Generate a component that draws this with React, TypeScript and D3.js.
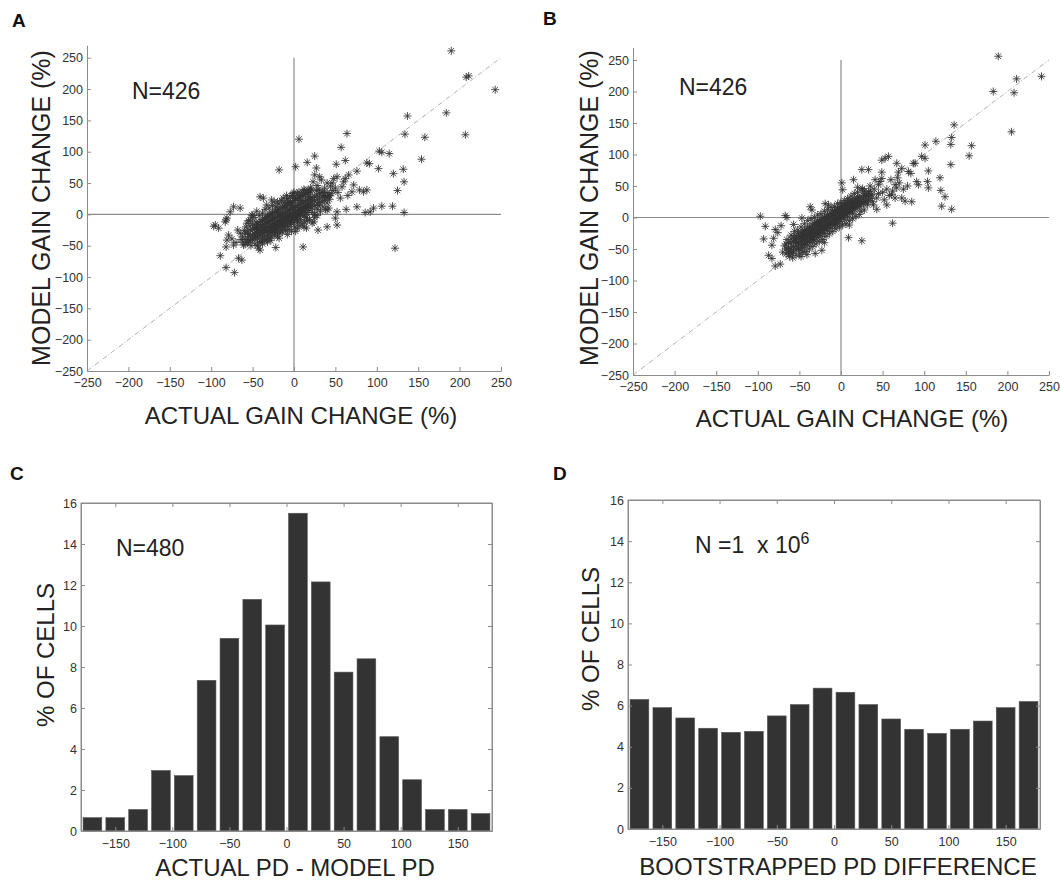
import React, { useEffect, useRef } from "react";
import * as d3 from "d3";

type Pt = [number, number];

// A: actual vs model gain change (%), cells away from the central cloud
const gainSpreadA: Pt[] = [
  [190, 261], [211, 221], [208, 219], [243, 199], [184, 162], [207, 127], [137, 157], [134, 128],
  [158, 123], [154, 88], [6, 120], [64, 129], [57, 107], [103, 101], [106, 99], [115, 97],
  [25, 93], [16, 83], [62, 86], [51, 80], [88, 82], [91, 81], [102, 73], [132, 72],
  [76, 69], [120, 65], [133, 52], [125, 38], [-18, 71], [2, 76], [27, 74], [62, 57],
  [66, 63], [72, 47], [70, 36], [79, 39], [84, 36], [88, 39], [48, 57], [52, 60],
  [46, 50], [50, 42], [56, 26], [63, 8], [76, 12], [86, 3], [92, 4], [96, 10],
  [106, 13], [119, 13], [133, 3], [122, -54], [11, -52], [-22, -53], [25, 63], [31, 60],
  [23, 52], [44, 45], [47, 38], [53, 35], [58, 44], [65, 30], [60, 52], [42, 30],
  [37, 42], [50, -6], [52, -17], [40, -20], [29, -25], [15, -22], [52, 4], [40, 7],
  [-37, 26], [-41, 28], [-73, 12], [-77, 4], [-81, -6], [-65, 10], [-95, -17], [-91, -22],
  [-97, -19], [-83, -12], [-82, -9], [-79, -33], [-81, -41], [-82, -52], [-89, -66], [-82, -85],
  [-72, -93], [-67, -70], [-63, -73], [-73, -49], [-75, -39], [-61, -49], [-55, -44], [-43, -54],
  [-41, -57], [-57, -14], [-53, -9], [-51, -1], [-13, 26], [-7, 20], [-1, 33], [-27, 23],
  [-20, 20], [30, 40], [35, 35], [28, 46], [40, 50], [33, 55], [20, 42], [18, 35],
  [12, 40], [38, 28], [45, 33],
];

// A: loose edge of the central cloud
const gainHaloA: Pt[] = [
  [-45, 5], [-42, -2], [-38, 2], [-35, 8], [-48, -5], [-40, -44], [-36, -42], [-33, -40],
  [-30, -38], [-27, -36], [-24, -33], [-20, -35], [-17, -30], [-14, -28], [-10, -26], [-6, -24],
  [-3, -27], [1, -20], [4, -22], [7, -18], [10, -15], [13, -12], [16, -10], [19, -8],
  [22, -14], [25, -5], [28, -2], [-30, 10], [-26, 14], [-22, 12], [-18, 17], [-15, 22],
  [-11, 19], [-8, 25], [-5, 28], [-2, 30], [1, 27], [4, 33], [7, 30], [10, 35],
  [13, 38], [17, 39], [21, 40], [-55, -10], [-58, -20], [-60, -26], [-52, -50], [-47, -47],
  [-44, -50], [-38, -47], [-28, -42], [-18, -38], [-8, -32], [2, -27], [12, -20], [24, -12],
  [32, 5], [35, 12], [38, 8], [42, 10], [27, 38], [-50, -2], [-33, 15], [-24, 20],
  [-9, 30], [0, 35], [6, 36], [-65, -30], [-64, -40], [-70, -45], [-68, -25], [-30, 0],
  [-20, 3], [-10, 10], [-25, -5], [-15, 0], [-5, -15], [5, -12], [15, -5], [-35, -8],
  [-45, -20], [-55, -32], [25, 0], [30, 14], [18, 28], [8, 22], [-3, 14], [-12, -20],
  [-22, -30], [-32, -44],
];

// A: central cloud, listed as actual change -> model changes
const gainCoreA: [number, number[]][] = [
  [-62, [-44, -36]], [-59, [-40, -30, -48]], [-56, [-38, -28, -45]], [-53, [-35, -25, -42, -18]],
  [-50, [-33, -24, -40, -15]], [-48, [-31, -38, -22]], [-46, [-29, -36, -20, -12]],
  [-44, [-30, -24, -38, -16]], [-42, [-28, -21, -35, -13, -44]], [-40, [-26, -19, -33, -11]],
  [-38, [-25, -17, -31, -39, -9]], [-36, [-23, -16, -29, -8, -36]], [-34, [-21, -14, -28, -5]],
  [-32, [-20, -13, -26, -34, -4]], [-30, [-19, -11, -25, -2, -31]], [-28, [-17, -10, -23, -29, 0]],
  [-26, [-16, -8, -21, 2, -27]], [-24, [-14, -7, -20, -26, 4]], [-22, [-13, -5, -18, 5, -24]],
  [-20, [-11, -4, -16, 7, -22, -28]], [-18, [-10, -2, -15, 8, -20]], [-16, [-8, -1, -13, 10, -19, -25]],
  [-14, [-7, 1, -12, 11, -17]], [-12, [-5, 2, -10, 13, -16, -22]], [-10, [-4, 4, -9, 14, -14]],
  [-8, [-2, 5, -7, 16, -13, -19]], [-6, [-1, 7, -6, 17, -11]], [-4, [1, 8, -4, 19, -10, -16]],
  [-2, [2, 9, -3, 20, -8]], [0, [3, 11, -1, 22, -7, -13]], [2, [5, 12, 0, 23, -5]],
  [4, [6, 14, 1, 25, -4, -10]], [6, [8, 15, 3, 26, -2]], [8, [9, 17, 4, 28, -1, -8]],
  [10, [11, 18, 6, 29, 1]], [12, [12, 20, 7, 31, -3]], [14, [14, 21, 9, 32, 3]],
  [16, [15, 23, 10, 34, 0]], [18, [17, 24, 12, 6]], [20, [18, 26, 13, 36]], [22, [20, 27, 10, 3]],
  [25, [22, 29, 14]], [28, [24, 31, 16, 8]], [31, [26, 33, 19]], [34, [28, 20, 36]],
  [37, [30, 22]], [40, [27, 35, 18]], [43, [30, 24]],
];

// B: same cells, second model
const gainSpreadB: Pt[] = [
  [189, 256], [211, 220], [241, 224], [183, 200], [208, 198], [205, 136], [136, 147], [133, 127],
  [132, 116], [157, 114], [154, 98], [114, 121], [101, 115], [132, 84], [119, 63], [120, 43],
  [125, 33], [121, 18], [133, 13], [62, -9], [25, -37], [9, -32], [105, 74], [91, 57],
  [93, 52], [104, 57], [105, 47], [89, 86], [97, 97], [101, 94], [87, 86], [81, 73],
  [84, 70], [73, 78], [67, 86], [53, 94], [57, 97], [49, 91], [69, 72], [49, 62],
  [47, 57], [65, 52], [67, 47], [61, 36], [65, 31], [73, 31], [77, 26], [85, 25],
  [55, 20], [43, 31], [33, 41], [37, 36], [25, 76], [33, 76], [15, 60], [1, 55],
  [2, 44], [20, 48], [26, 46], [49, 72], [41, 60], [45, 52], [39, 20], [43, 13],
  [29, 25], [50, 40], [55, 45], [58, 35], [45, 38], [40, 45], [62, 42], [70, 55],
  [75, 45], [60, 60], [35, 50], [30, 35], [28, 42], [38, 25], [52, 28], [68, 63], [80, 50],
  [-97, 2], [-91, -14], [-93, -34], [-67, 3], [-65, 0], [-79, -19], [-76, -24], [-72, -13],
  [-81, -33], [-83, -44], [-87, -60], [-83, -65], [-79, -77], [-73, -74], [-63, -52], [-59, -57],
  [-51, -49], [-41, -59], [-31, -57], [-23, -52], [-55, -34], [-49, -29], [-37, 17], [-35, 12],
  [-19, 22], [-15, 20], [-47, -1], [-57, -11],
];

const gainHaloB: Pt[] = [
  [-40, -5], [-44, -10], [-36, -2], [-48, -15], [-52, -20], [-56, -22], [-60, -28], [-62, -62],
  [-58, -64], [-54, -60], [-50, -58], [-46, -55], [-42, -54], [-38, -50], [-34, -46], [-30, -42],
  [-26, -38], [-22, -35], [-18, -30], [-14, -26], [-10, -22], [-6, -18], [-2, -15], [2, -12],
  [6, -10], [10, -5], [14, -2], [18, 2], [22, 5], [-32, 0], [-28, 4], [-24, 6],
  [-20, 10], [-16, 13], [-12, 16], [-8, 18], [-4, 22], [0, 24], [4, 27], [8, 30],
  [12, 34], [16, 38], [20, 40], [25, 44], [-65, -35], [-68, -45], [-70, -55], [-45, -30],
  [-25, -20], [-5, -5], [15, 18], [28, 12], [32, 20], [35, 42], [-33, -35], [-15, -12],
  [5, 6], [-53, -40], [-37, -25], [-27, -10], [-7, -10], [3, 15], [10, -12], [-20, -40],
  [-48, -62], [24, 10], [30, 38],
];

const gainCoreB: [number, number[]][] = [
  [-66, [-50, -42, -58]], [-63, [-48, -40, -55]], [-60, [-49, -41, -56, -34]], [-57, [-46, -38, -53, -31]],
  [-54, [-44, -36, -51, -29]], [-51, [-41, -33, -48, -26]], [-48, [-38, -31, -45, -24, -52]],
  [-46, [-37, -29, -43, -22]], [-44, [-35, -28, -42, -21, -48]], [-42, [-33, -26, -40, -19]],
  [-40, [-31, -24, -38, -17, -44]], [-38, [-29, -22, -36, -15]], [-36, [-28, -21, -34, -14, -40]],
  [-34, [-26, -19, -32, -12]], [-32, [-24, -17, -30, -10, -36]], [-30, [-22, -15, -28, -8]],
  [-28, [-20, -13, -26, -6, -32]], [-26, [-19, -12, -25, -5]], [-24, [-17, -10, -23, -3, -29]],
  [-22, [-15, -8, -21, -1]], [-20, [-13, -6, -19, 0, -25]], [-18, [-11, -4, -17, 2]],
  [-16, [-10, -3, -15, 4, -21]], [-14, [-8, -1, -13, 5]], [-12, [-6, 1, -11, 7, -17]],
  [-10, [-4, 3, -9, 9]], [-8, [-2, 5, -7, 11, -13]], [-6, [0, 7, -5, 12]], [-4, [1, 8, -4, 14, -10]],
  [-2, [3, 10, -2, 16]], [0, [5, 12, 0, 17, -6]], [2, [7, 13, 2, 19]], [4, [9, 15, 3, 21, -3]],
  [6, [10, 17, 5, 22]], [8, [12, 18, 7, 24, 1]], [10, [14, 20, 8, 26]], [12, [16, 22, 10, 28]],
  [14, [17, 24, 12, 6]], [16, [19, 25, 13, 30]], [18, [21, 27, 15]], [20, [23, 29, 17, 33]],
  [22, [24, 31, 18]], [24, [26, 32, 20]], [27, [29, 22, 35]], [30, [31, 25]], [33, [34, 27]],
  [36, [36, 30]],
];

const gainTicks = [-250, -200, -150, -100, -50, 0, 50, 100, 150, 200, 250];

// C and D: histograms of PD differences, 20 deg bins
const pdBinCenters = [-170, -150, -130, -110, -90, -70, -50, -30, -10, 10, 30, 50, 70, 90, 110, 130, 150, 170];
const pctCellsC = [0.65, 0.65, 1.05, 2.95, 2.7, 7.35, 9.4, 11.3, 10.05, 15.5, 12.15, 7.75, 8.4, 4.6, 2.5, 1.05, 1.05, 0.85];
const pctCellsD = [6.3, 5.9, 5.4, 4.9, 4.7, 4.75, 5.5, 6.05, 6.85, 6.65, 6.05, 5.35, 4.85, 4.65, 4.85, 5.25, 5.9, 6.2];
const pdTicks = [-150, -100, -50, 0, 50, 100, 150];
const pctTicks = [0, 2, 4, 6, 8, 10, 12, 14, 16];

const FONT = "'Liberation Sans', Arial, Helvetica, sans-serif";
const INK = "#333";
const FRAME = "#8c8c8c";
// matlab style '*' marker
const STAR = "M-4,0H4M0,-4V4M-2.8,-2.8L2.8,2.8M-2.8,2.8L2.8,-2.8";

const flatten = (spread: Pt[], halo: Pt[], core: [number, number[]][]): Pt[] =>
  spread.concat(halo, core.flatMap(([gx, ys]) => ys.map(gy => [gx, gy] as Pt)));

function styleAxis(g: any, labels = true) {
  g.select(".domain").attr("stroke", FRAME);
  g.selectAll(".tick line").attr("stroke", FRAME);
  g.selectAll(".tick text")
    .attr("fill", INK)
    .style("font-family", FONT)
    .style("font-size", "12.5px")
    .style("display", labels ? null : "none");
}

function addText(svg: any, x: number, y: number, str: string, size: number, opts: any = {}) {
  const t = svg.append("text")
    .attr("x", x)
    .attr("y", y)
    .attr("fill", opts.fill || "#222")
    .attr("text-anchor", opts.anchor || "start")
    .style("font-family", FONT)
    .style("font-size", size + "px")
    .style("font-weight", opts.bold ? "bold" : "normal")
    .text(str);
  if (opts.rotate) t.attr("transform", `rotate(-90, ${x}, ${y})`);
  return t;
}

function scatterPanel(svg: any, pts: Pt[], f: { left: number; right: number; bottom: number; top: number }) {
  const x = d3.scaleLinear().domain([-250, 250]).range([f.left, f.right]);
  const y = d3.scaleLinear().domain([-250, 270]).range([f.bottom, f.top]);
  const line = d3.line<Pt>().x(d => x(d[0])).y(d => y(d[1]));
  const g = svg.append("g");

  // unity line
  g.append("path")
    .attr("d", line([[-250, -250], [250, 250]]))
    .attr("fill", "none")
    .attr("stroke", "#a8a8a8")
    .attr("stroke-width", 0.9)
    .attr("stroke-dasharray", "5,2,1,2");

  // zero lines
  g.append("path").attr("d", line([[-250, 0], [250, 0]])).attr("stroke", FRAME).attr("stroke-width", 1.2);
  g.append("path").attr("d", line([[0, -250], [0, 250]])).attr("stroke", FRAME).attr("stroke-width", 1.2);

  g.selectAll("path.star")
    .data(pts)
    .join("path")
    .attr("class", "star")
    .attr("d", STAR)
    .attr("transform", (d: Pt) => `translate(${x(d[0])},${y(d[1])})`)
    .attr("fill", "none")
    .attr("stroke", INK)
    .attr("stroke-width", 1)
    .attr("stroke-opacity", 0.85);

  const ax = g.append("g")
    .attr("transform", `translate(0,${f.bottom})`)
    .call(d3.axisBottom(x).tickValues(gainTicks).tickSizeInner(-4).tickSizeOuter(0).tickPadding(7.5));
  styleAxis(ax);

  const ay = g.append("g")
    .attr("transform", `translate(${f.left},0)`)
    .call(d3.axisLeft(y).tickValues(gainTicks).tickSizeInner(-4).tickSizeOuter(0).tickPadding(4));
  styleAxis(ay);
}

function histPanel(svg: any, values: number[], f: { left: number; right: number; bottom: number; top: number }) {
  const x = d3.scaleLinear().domain([-180, 180]).range([f.left, f.right]);
  const y = d3.scaleLinear().domain([0, 16]).range([f.bottom, f.top]);
  const w = (x(20) - x(0)) * 0.82;
  const g = svg.append("g");

  g.selectAll("rect.bar")
    .data(values)
    .join("rect")
    .attr("class", "bar")
    .attr("x", (_: number, i: number) => x(pdBinCenters[i]) - w / 2)
    .attr("y", (d: number) => y(d))
    .attr("width", w)
    .attr("height", (d: number) => y(0) - y(d))
    .attr("fill", "#333")
    .attr("stroke", "#555")
    .attr("stroke-width", 0.6);

  const axes = [
    { ax: d3.axisBottom(x).tickValues(pdTicks), t: `translate(0,${f.bottom})`, labels: true, pad: 8.5 },
    { ax: d3.axisTop(x).tickValues(pdTicks), t: `translate(0,${f.top})`, labels: false, pad: 3 },
    { ax: d3.axisLeft(y).tickValues(pctTicks), t: `translate(${f.left},0)`, labels: true, pad: 4 },
    { ax: d3.axisRight(y).tickValues(pctTicks), t: `translate(${f.right},0)`, labels: false, pad: 3 },
  ];
  axes.forEach(a => {
    const ag = g.append("g")
      .attr("transform", a.t)
      .call(a.ax.tickSizeInner(-4).tickSizeOuter(0).tickPadding(a.pad));
    styleAxis(ag, a.labels);
  });

  g.append("rect")
    .attr("x", f.left)
    .attr("y", f.top)
    .attr("width", f.right - f.left)
    .attr("height", f.bottom - f.top)
    .attr("fill", "none")
    .attr("stroke", FRAME)
    .attr("stroke-width", 1);
}

const App = () => {
  const svgRef = useRef<SVGSVGElement>(null);

  useEffect(() => {
    const svg = d3.select(svgRef.current);
    svg.selectAll("*").remove();

    // A
    scatterPanel(svg, flatten(gainSpreadA, gainHaloA, gainCoreA), { left: 87, right: 501, bottom: 371, top: 45.2 });
    addText(svg, 12, 27, "A", 19, { bold: true, fill: "#111" });
    addText(svg, 132, 99, "N=426", 23);
    addText(svg, 50, 208, "MODEL GAIN CHANGE (%)", 25, { anchor: "middle", rotate: true });
    addText(svg, 301, 424, "ACTUAL GAIN CHANGE (%)", 24, { anchor: "middle" });

    // B
    scatterPanel(svg, flatten(gainSpreadB, gainHaloB, gainCoreB), { left: 633, right: 1049, bottom: 375, top: 47.4 });
    addText(svg, 543, 25, "B", 19, { bold: true, fill: "#111" });
    addText(svg, 679, 95, "N=426", 23);
    addText(svg, 598, 208, "MODEL GAIN CHANGE (%)", 25, { anchor: "middle", rotate: true });
    addText(svg, 852, 427, "ACTUAL GAIN CHANGE (%)", 24, { anchor: "middle" });

    // C
    histPanel(svg, pctCellsC, { left: 81, right: 492, bottom: 831, top: 503 });
    addText(svg, 10, 480, "C", 19, { bold: true, fill: "#111" });
    addText(svg, 116, 556, "N=480", 23);
    addText(svg, 54, 655, "% OF CELLS", 24, { anchor: "middle", rotate: true });
    addText(svg, 295, 876, "ACTUAL PD - MODEL PD", 24, { anchor: "middle" });

    // D
    histPanel(svg, pctCellsD, { left: 628, right: 1040, bottom: 829, top: 500 });
    addText(svg, 553, 480, "D", 19, { bold: true, fill: "#111" });
    const n = addText(svg, 695, 553, "N =1  x 10", 23).style("white-space", "pre");
    n.append("tspan").attr("dy", -9).style("font-size", "16px").text("6");
    addText(svg, 599, 639, "% OF CELLS", 24, { anchor: "middle", rotate: true });
    addText(svg, 838, 875, "BOOTSTRAPPED PD DIFFERENCE", 24, { anchor: "middle" });
  }, []);

  return (
    <svg
      ref={svgRef}
      width={1060}
      height={880}
      style={{ position: "absolute", left: 0, top: 0, background: "#fff" }}
    />
  );
};

export default App;
